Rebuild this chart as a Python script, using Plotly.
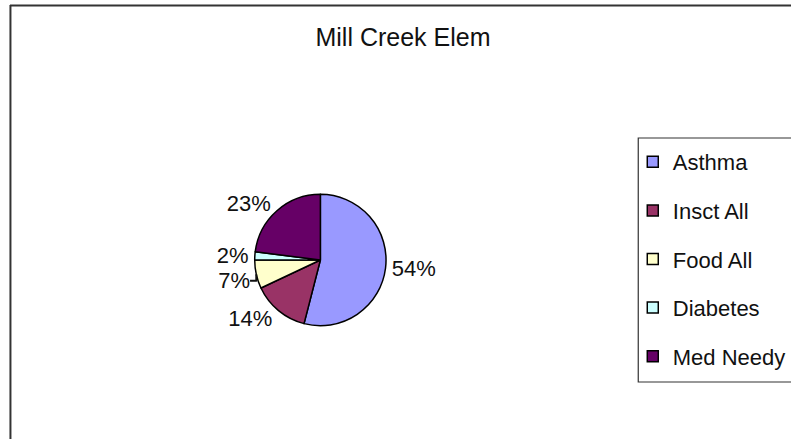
import plotly.graph_objects as go

W, H = 791, 439

categories = ['Asthma', 'Insct All', 'Food All', 'Diabetes', 'Med Needy']
shares = [54, 14, 7, 2, 23]
colors = ['#9999FF', '#993366', '#FFFFCC', '#CCFFFF', '#660066']

FONT = 'Liberation Sans, Arial, sans-serif'

fig = go.Figure()

fig.add_trace(go.Pie(
    labels=categories,
    values=shares,
    sort=False,
    direction='clockwise',
    rotation=0,
    marker=dict(colors=colors, line=dict(color='black', width=1.5)),
    textposition='outside',
    texttemplate='%{percent:.0%}',
    textfont=dict(family=FONT, size=22, color='#111111'),
    domain=dict(x=[256 / W, 388 / W], y=[1 - 326 / H, 1 - 194 / H]),
    showlegend=False,
    hoverinfo='label+percent',
))

# legend entries, one per category so the rows can be spaced like the original
for name, col in zip(categories, colors):
    fig.add_trace(go.Scatter(
        x=[None], y=[None],
        mode='markers',
        name=name,
        legendgroup=name,
        marker=dict(symbol='square', size=11, color=col,
                    line=dict(color='black', width=1.5)),
    ))

# chart frame (top and left edges only are visible)
fig.add_shape(type='line', xref='paper', yref='paper',
              x0=10 / W, x1=1.02, y0=1 - 5.5 / H, y1=1 - 5.5 / H,
              line=dict(color='#333333', width=2))
fig.add_shape(type='line', xref='paper', yref='paper',
              x0=10.5 / W, x1=10.5 / W, y0=-0.02, y1=1 - 5 / H,
              line=dict(color='#333333', width=2))
# legend box, running off the right edge
fig.add_shape(type='rect', xref='paper', yref='paper',
              x0=641.5 / W, x1=1.05, y0=1 - 382 / H, y1=1 - 138 / H,
              line=dict(color='#333333', width=1.2), layer='below')

fig.update_layout(
    width=W, height=H,
    margin=dict(l=0, r=0, t=0, b=0),
    paper_bgcolor='white',
    plot_bgcolor='white',
    title=dict(text='Mill Creek Elem', x=403 / W, xanchor='center',
               y=1 - 37 / H, yanchor='middle',
               font=dict(family=FONT, size=25, color='#111111')),
    xaxis=dict(visible=False),
    yaxis=dict(visible=False),
    legend=dict(
        x=636 / W, xanchor='left',
        y=1 - 141 / H, yanchor='top',
        borderwidth=0,
        bgcolor='rgba(0,0,0,0)',
        font=dict(family=FONT, size=22, color='#111111'),
        tracegroupgap=17,
        itemwidth=30,
    ),
)

fig.write_html("out.html", config={'displayModeBar': False},
               post_script="document.body.style.margin='0';")
